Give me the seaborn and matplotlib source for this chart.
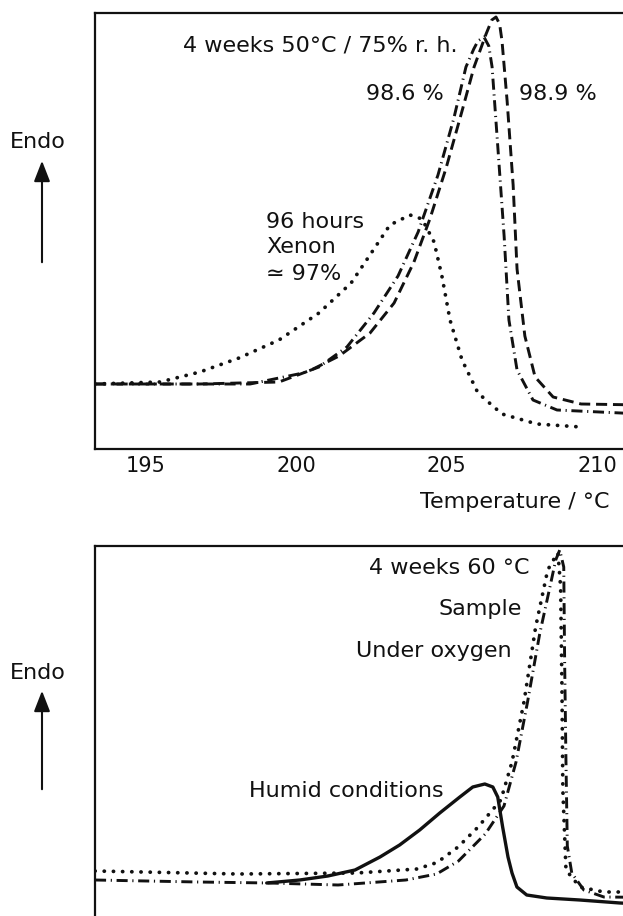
import numpy as np
import pandas as pd
import seaborn as sns
import matplotlib.pyplot as plt
from matplotlib.patches import FancyArrowPatch

# ---- upper panel: DSC melting endotherms (temperature in °C, endo signal in arbitrary units)
up_dash_t = [193.30, 196.79, 199.42, 200.49, 201.42, 202.45, 203.25, 203.91, 204.44, 204.98,
             205.51, 205.91, 206.31, 206.50, 206.64, 206.76, 206.84, 207.01, 207.21, 207.34,
             207.60, 207.94, 208.54, 209.47, 211.50]
up_dash_h = [6.5, 6.5, 6.7, 7.9, 9.3, 11.6, 14.6, 18.7, 23.0, 28.1,
             33.8, 38.2, 41.5, 42.9, 43.2, 42.5, 40.8, 34.8, 26.4, 18.0,
             11.3, 7.2, 5.2, 4.5, 4.4]

up_dd_t = [193.30, 198.46, 200.22, 200.75, 201.68, 202.58, 203.38, 204.05, 204.71, 205.24,
           205.64, 205.90, 206.04, 206.24, 206.40, 206.51, 206.71, 206.91, 207.07, 207.34,
           207.87, 208.67, 211.50]
up_dd_h = [6.5, 6.5, 7.6, 8.2, 10.2, 13.6, 17.3, 21.7, 27.4, 33.1,
           38.2, 40.0, 40.8, 41.2, 40.3, 38.2, 29.8, 21.3, 12.9, 7.9,
           4.9, 3.9, 3.5]

up_dot_t = [193.30, 195.46, 196.79, 198.09, 199.42, 200.75, 201.82, 202.58, 203.11, 203.78,
            204.18, 204.58, 204.84, 205.11, 205.51, 206.04, 206.84, 208.00, 209.47]
up_dot_h = [6.5, 6.7, 7.7, 9.1, 10.9, 13.6, 16.6, 20.0, 22.4, 23.4,
            23.0, 20.7, 17.3, 12.9, 8.9, 5.6, 3.5, 2.5, 2.2]

up_ticks = [195, 200, 205, 210]

# ---- lower panel
lo_solid_t = [202.06, 202.80, 203.43, 204.04, 204.60, 205.04, 205.49, 205.94, 206.39, 206.68,
              206.95, 207.13, 207.24, 207.35, 207.47, 207.56, 207.67, 207.89, 208.34, 209.08,
              209.98, 210.76]
lo_solid_h = [3.7, 4.0, 4.4, 5.0, 6.3, 7.5, 9.0, 10.7, 12.3, 13.3,
              13.6, 13.3, 12.3, 9.3, 6.3, 4.7, 3.3, 2.5, 2.2, 2.0,
              1.7, 1.55]

lo_dd_t = [198.21, 200.52, 202.12, 203.66, 205.18, 205.87, 206.36, 206.96, 207.38, 207.65,
           207.91, 208.18, 208.41, 208.54, 208.63, 208.72, 208.74, 208.77, 208.80, 208.90,
           209.17, 209.62, 210.80]
lo_dd_h = [4.0, 3.8, 3.7, 3.5, 4.0, 4.6, 5.9, 8.6, 11.4, 15.8,
           21.85, 28.6, 33.3, 36.0, 37.0, 35.3, 25.9, 15.8, 7.4, 4.7,
           3.0, 2.3, 2.25]

lo_dot_t = [198.21, 201.41, 204.08, 205.43, 205.88, 206.35, 206.80, 207.31, 207.56, 207.83,
            208.09, 208.36, 208.54, 208.59, 208.65, 208.68, 208.70, 208.77, 209.08, 209.62,
            210.80]
lo_dot_h = [4.9, 4.6, 4.7, 5.1, 5.75, 7.3, 9.3, 12.0, 15.8, 21.85,
            29.3, 35.0, 36.4, 36.7, 33.3, 23.1, 13.0, 5.0, 3.3, 2.8,
            2.8]

lo_ticks = [200, 202, 204, 206, 208]

sns.set_theme(style="white")
plt.rcParams['font.family'] = ['DejaVu Sans']
plt.rcParams['axes.edgecolor'] = 'black'

W, H = 623, 916
fig = plt.figure(figsize=(W / 100, H / 100), dpi=100)
fig.patch.set_facecolor('white')


def px_axes(left, top, right, bottom):
    return fig.add_axes([left / W, 1 - bottom / H, (right - left) / W, (bottom - top) / H])


def fpos(x, y):
    return (x / W, 1 - y / H)


INK = '#111111'
LW = 2.1
DASHED = (0, (3.8, 2.0))
DASHDOT = (0, (3.8, 1.6, 0.4, 1.6))
DOTTED = (0, (0.05, 2.4))


def curve(ax, t, h, ls, lw=LW, cap='butt'):
    df = pd.DataFrame({'T': t, 'h': h})
    sns.lineplot(data=df, x='T', y='h', ax=ax, sort=False, estimator=None,
                 color=INK, linewidth=lw, linestyle=ls,
                 dash_capstyle=cap, solid_capstyle='round', solid_joinstyle='round')


def frame(ax, ticks, labels):
    for side in ('left', 'bottom', 'top', 'right'):
        ax.spines[side].set_linewidth(1.6)
        ax.spines[side].set_color(INK)
    ax.set_xticks(ticks)
    ax.set_yticks([])
    ax.tick_params(axis='x', direction='in', length=12, width=1.3, color=INK,
                   labelsize=15, labelcolor=INK, pad=5, labelbottom=labels)
    ax.set_xlabel('')
    ax.set_ylabel('')
    ax.grid(False)


# upper panel
ax1 = px_axes(95, 13, 655, 449)
curve(ax1, up_dot_t, up_dot_h, DOTTED, lw=2.7, cap='round')
curve(ax1, up_dd_t, up_dd_h, DASHDOT)
curve(ax1, up_dash_t, up_dash_h, DASHED)
ax1.set_xlim(193.30, 193.30 + 560 / 30.06)
ax1.set_ylim(0, 43.6)
frame(ax1, up_ticks, True)
ax1.set_xticklabels([str(v) for v in up_ticks])

tk = dict(fontsize=16, color=INK)
ax1.text(196.23, 40.4, '4 weeks 50°C / 75% r. h.', ha='left', va='center', **tk)
ax1.text(204.91, 35.5, '98.6 %', ha='right', va='center', **tk)
ax1.text(207.41, 35.5, '98.9 %', ha='left', va='center', **tk)
ax1.text(198.99, 22.7, '96 hours', ha='left', va='center', **tk)
ax1.text(198.99, 20.2, 'Xenon', ha='left', va='center', **tk)
ax1.text(198.99, 17.5, '≃ 97%', ha='left', va='center', **tk)

fig.text(*fpos(610, 502), 'Temperature / °C', ha='right', va='center', **tk)

# lower panel
ax2 = px_axes(95, 546, 655, 920)
curve(ax2, lo_dot_t, lo_dot_h, DOTTED, lw=2.7, cap='round')
curve(ax2, lo_dd_t, lo_dd_h, DASHDOT)
curve(ax2, lo_solid_t, lo_solid_h, '-', lw=2.4)
ax2.set_xlim(198.21, 198.21 + 560 / 44.6)
ax2.set_ylim(0, 37.4)
frame(ax2, lo_ticks, False)

ax2.text(207.96, 35.15, '4 weeks 60 °C', ha='right', va='center', **tk)
ax2.text(207.78, 31.1, 'Sample', ha='right', va='center', **tk)
ax2.text(207.56, 26.9, 'Under oxygen', ha='right', va='center', **tk)
ax2.text(206.03, 12.9, 'Humid conditions', ha='right', va='center', **tk)

# "Endo" direction markers
for ylab, ytip, ybase in ((142, 158, 265), (673, 688, 792)):
    fig.text(*fpos(38, ylab), 'Endo', ha='center', va='center', **tk)
    fig.add_artist(FancyArrowPatch(
        fpos(42, ybase), fpos(42, ytip), transform=fig.transFigure,
        arrowstyle='-|>,head_length=0.9,head_width=0.35', mutation_scale=14,
        color=INK, linewidth=1.5))

fig.savefig('out.png', dpi=100, facecolor='white')
